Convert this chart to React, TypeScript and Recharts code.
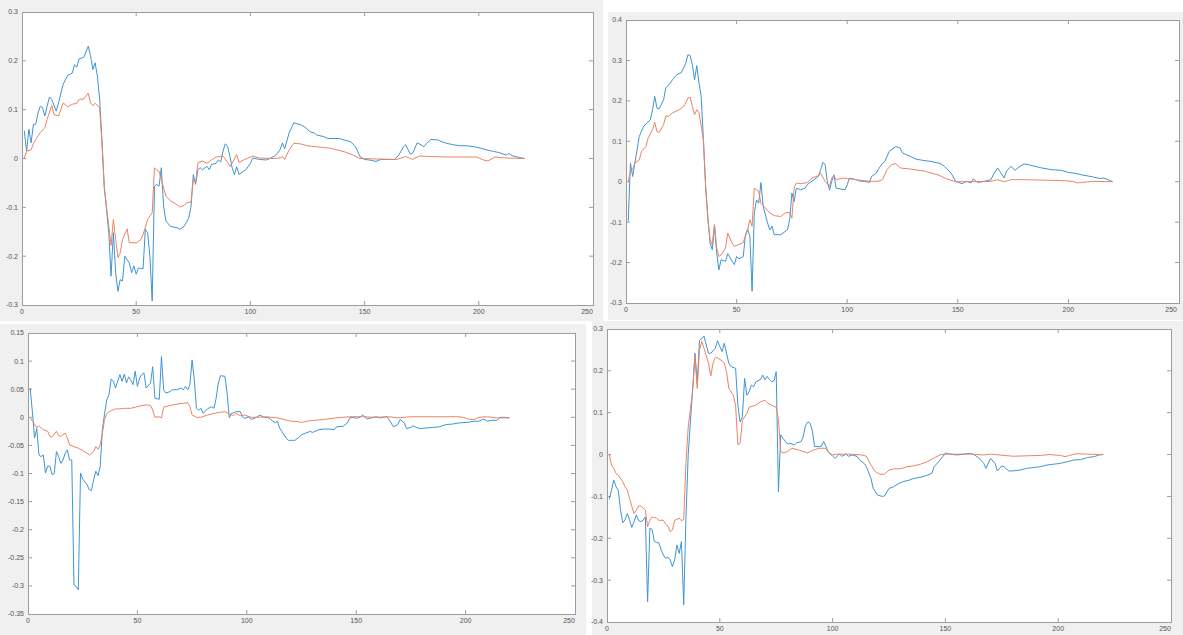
import { LineChart, Line, XAxis, YAxis, ReferenceLine } from "recharts";

// four screenshots of matlab plots, each one blue and one orange trace
type Pt = [number, number];

const xTicks = [0, 50, 100, 150, 200, 250];

const p1Ticks = [-0.3, -0.2, -0.1, 0, 0.1, 0.2, 0.3];
const p2Ticks = [-0.3, -0.2, -0.1, 0, 0.1, 0.2, 0.3, 0.4];
const p3Ticks = [-0.35, -0.3, -0.25, -0.2, -0.15, -0.1, -0.05, 0, 0.05, 0.1, 0.15];
const p4Ticks = [-0.4, -0.3, -0.2, -0.1, 0, 0.1, 0.2, 0.3];

const p1Blue: Pt[] = [
  [1, 0.057], [2, 0.015], [3, 0.06], [4, 0.032], [5, 0.07], [6, 0.07], [7, 0.093], [8, 0.107], [9, 0.104], [10, 0.087],
  [11, 0.107], [12, 0.126], [13, 0.121], [15, 0.097], [16, 0.114], [18, 0.152], [20, 0.17], [22, 0.175], [23, 0.192], [24, 0.187],
  [25, 0.204], [27, 0.207], [29, 0.23], [30, 0.211], [31, 0.182], [32, 0.196], [33, 0.169], [34, 0.121], [35, 0.039], [36, -0.057],
  [38, -0.152], [39, -0.241], [40, -0.152], [41, -0.234], [42, -0.272], [43, -0.248], [44, -0.251], [45, -0.2], [47, -0.214], [48, -0.234],
  [49, -0.22], [50, -0.237], [51, -0.224], [53, -0.226], [54, -0.145], [55, -0.152], [56, -0.2], [57, -0.292], [58, -0.057], [59, -0.053],
  [60, -0.057], [61, -0.019], [62, -0.098], [63, -0.128], [65, -0.139], [68, -0.142], [69, -0.145], [71, -0.139], [73, -0.122], [74, -0.098],
  [75, -0.033], [76, -0.053], [77, -0.023], [78, -0.019], [79, -0.023], [81, -0.016], [82, -0.023], [83, -0.012], [85, -0.01], [86, -0.003],
  [87, -0.007], [88, 0.015], [89, 0.03], [90, 0.025], [91, 0.005], [92, -0.019], [93, -0.033], [94, -0.017], [95, -0.033], [97, -0.026],
  [98, -0.023], [100, -0.01], [101, 0.001], [104, -0.002], [107, -0.003], [109, 0.001], [111, 0.006], [113, 0.018], [114, 0.032], [115, 0.02],
  [117, 0.053], [119, 0.073], [122, 0.069], [124, 0.064], [126, 0.055], [128, 0.052], [129, 0.048], [132, 0.045], [134, 0.041], [139, 0.041],
  [141, 0.038], [144, 0.034], [146, 0.024], [148, 0.004], [150, -0.002], [152, -0.003], [155, -0.006], [157, -0.002], [160, -0.002], [163, -0.002],
  [165, 0.007], [167, 0.024], [168, 0.028], [170, 0.009], [171, 0.01], [173, 0.032], [174, 0.03], [176, 0.024], [177, 0.03], [179, 0.039],
  [182, 0.038], [184, 0.034], [186, 0.031], [189, 0.028], [192, 0.026], [195, 0.026], [198, 0.024], [201, 0.021], [204, 0.017], [207, 0.014],
  [209, 0.012], [212, 0.007], [213, 0.01], [215, 0.005], [218, 0.002], [220, 0],
];

const p1Orange: Pt[] = [
  [1, 0], [2, 0.015], [4, 0.018], [5, 0.031], [6, 0.039], [8, 0.053], [10, 0.063], [11, 0.08], [13, 0.109], [14, 0.09],
  [16, 0.087], [17, 0.1], [18, 0.114], [20, 0.106], [22, 0.111], [24, 0.113], [25, 0.121], [27, 0.122], [29, 0.134], [30, 0.114],
  [31, 0.108], [32, 0.113], [34, 0.104], [35, 0.032], [36, -0.057], [38, -0.139], [39, -0.178], [40, -0.125], [41, -0.166], [42, -0.203],
  [43, -0.193], [44, -0.166], [46, -0.144], [47, -0.173], [48, -0.172], [50, -0.173], [52, -0.166], [53, -0.156], [55, -0.125], [56, -0.118],
  [57, -0.111], [58, -0.019], [59, -0.024], [60, -0.026], [61, -0.043], [63, -0.077], [65, -0.087], [67, -0.092], [69, -0.099], [71, -0.096],
  [72, -0.091], [74, -0.089], [75, -0.043], [76, -0.05], [77, -0.009], [79, -0.005], [81, -0.01], [83, -0.003], [85, 0.003], [88, 0.005],
  [90, -0.008], [91, -0.016], [92, -0.01], [94, 0.008], [95, -0.008], [97, -0.003], [99, 0.001], [101, 0.005], [104, 0.001], [110, 0],
  [113, 0.001], [114, 0.004], [115, -0.002], [117, 0.018], [119, 0.031], [122, 0.03], [125, 0.026], [129, 0.024], [135, 0.021], [141, 0.014],
  [145, 0.007], [148, 0], [155, -0.001], [164, -0.002], [168, 0.004], [171, -0.002], [174, 0.005], [179, 0.004], [187, 0.003], [199, 0.003],
  [202, -0.003], [204, -0.005], [207, 0.003], [212, 0.001], [220, 0],
];

const p2Blue: Pt[] = [
  [1, -0.098], [2, 0.046], [3, 0.013], [4, 0.046], [5, 0.079], [6, 0.112], [8, 0.137], [9, 0.143], [11, 0.153], [12, 0.178],
  [13, 0.211], [14, 0.182], [15, 0.18], [17, 0.203], [18, 0.232], [20, 0.244], [21, 0.252], [23, 0.265], [25, 0.27], [26, 0.281],
  [27, 0.293], [28, 0.314], [29, 0.312], [30, 0.289], [31, 0.252], [32, 0.287], [33, 0.244], [34, 0.211], [35, 0.104], [36, -0.012],
  [37, -0.086], [38, -0.152], [39, -0.168], [40, -0.11], [41, -0.176], [42, -0.218], [43, -0.193], [45, -0.197], [46, -0.178], [48, -0.197],
  [49, -0.205], [50, -0.185], [51, -0.191], [53, -0.185], [54, -0.131], [55, -0.117], [56, -0.135], [57, -0.271], [58, -0.077], [59, -0.045],
  [60, -0.053], [61, -0.002], [62, -0.061], [64, -0.102], [65, -0.119], [66, -0.11], [67, -0.131], [70, -0.131], [71, -0.127], [73, -0.119],
  [74, -0.094], [75, -0.028], [76, -0.049], [77, -0.016], [79, -0.02], [81, -0.016], [82, -0.007], [85, 0.005], [87, 0.013], [88, 0.03],
  [89, 0.048], [90, 0.043], [91, 0.001], [92, -0.021], [93, 0.001], [94, 0.017], [95, -0.016], [97, -0.018], [99, -0.02], [100, -0.008],
  [101, 0.009], [104, 0.005], [106, 0.001], [108, 0.001], [110, -0.002], [111, 0.013], [113, 0.02], [114, 0.03], [116, 0.046], [117, 0.05],
  [119, 0.075], [122, 0.087], [124, 0.083], [125, 0.071], [128, 0.064], [131, 0.056], [134, 0.053], [138, 0.05], [142, 0.045], [144, 0.038],
  [147, 0.021], [149, 0.001], [152, -0.005], [154, 0.001], [156, -0.003], [157, 0.007], [159, -0.002], [162, 0.001], [165, 0.005], [166, 0.017],
  [168, 0.034], [171, 0.009], [172, 0.026], [174, 0.038], [176, 0.028], [177, 0.034], [180, 0.044], [182, 0.042], [185, 0.038], [188, 0.034],
  [192, 0.03], [197, 0.028], [200, 0.023], [203, 0.021], [206, 0.017], [211, 0.012], [214, 0.008], [216, 0.009], [218, 0.005], [220, 0],
];

const p2Orange: Pt[] = [
  [1, 0], [2, 0.026], [3, 0.03], [4, 0.046], [6, 0.054], [7, 0.075], [9, 0.087], [10, 0.108], [12, 0.129], [13, 0.147],
  [14, 0.124], [15, 0.122], [17, 0.141], [18, 0.163], [19, 0.161], [21, 0.17], [24, 0.178], [26, 0.186], [27, 0.195], [28, 0.207],
  [29, 0.209], [30, 0.186], [31, 0.166], [32, 0.178], [33, 0.171], [34, 0.137], [35, 0.104], [36, -0.012], [37, -0.094], [38, -0.143],
  [39, -0.156], [40, -0.106], [41, -0.164], [42, -0.185], [43, -0.181], [45, -0.164], [46, -0.127], [48, -0.152], [49, -0.16], [52, -0.153],
  [53, -0.15], [55, -0.119], [56, -0.094], [57, -0.11], [58, -0.016], [59, -0.02], [60, -0.024], [61, -0.053], [63, -0.065], [65, -0.077],
  [67, -0.084], [70, -0.086], [72, -0.077], [74, -0.076], [75, -0.09], [76, -0.016], [77, -0.003], [79, -0.005], [82, -0.002], [84, 0.009],
  [87, 0.015], [88, 0.021], [90, 0.001], [92, -0.012], [93, 0.009], [94, 0.015], [95, 0.005], [98, 0.009], [101, 0.007], [104, 0.005],
  [110, 0.001], [114, 0.001], [116, 0.005], [118, 0.03], [120, 0.042], [122, 0.045], [124, 0.034], [129, 0.031], [135, 0.026], [141, 0.017],
  [145, 0.007], [149, 0], [156, 0], [165, 0.001], [168, 0.005], [171, 0], [174, 0.005], [180, 0.005], [196, 0.003], [202, 0.001],
  [204, -0.003], [206, -0.002], [211, 0.001], [220, 0],
];

const p3Blue: Pt[] = [
  [1, 0.052], [2, 0.01], [3, -0.037], [4, -0.02], [5, -0.067], [6, -0.07], [7, -0.067], [8, -0.099], [9, -0.087], [10, -0.087],
  [11, -0.102], [12, -0.1], [13, -0.061], [14, -0.07], [15, -0.082], [16, -0.076], [17, -0.064], [18, -0.058], [19, -0.076], [20, -0.076],
  [21, -0.298], [22, -0.301], [23, -0.307], [24, -0.099], [25, -0.11], [27, -0.12], [28, -0.129], [29, -0.13], [30, -0.111], [31, -0.096],
  [32, -0.104], [33, -0.087], [34, -0.022], [35, 0.007], [36, 0.031], [37, 0.04], [38, 0.068], [39, 0.064], [40, 0.052], [41, 0.064],
  [42, 0.076], [43, 0.064], [44, 0.077], [45, 0.061], [46, 0.072], [47, 0.066], [48, 0.058], [49, 0.082], [50, 0.055], [51, 0.07],
  [52, 0.076], [53, 0.079], [54, 0.052], [56, 0.061], [57, 0.09], [58, 0.034], [60, 0.032], [61, 0.108], [62, 0.049], [63, 0.043],
  [65, 0.046], [66, 0.049], [68, 0.049], [70, 0.052], [71, 0.049], [72, 0.055], [73, 0.049], [74, 0.058], [75, 0.102], [76, 0.067],
  [77, 0.016], [78, 0.013], [79, 0.016], [80, 0.007], [82, 0.015], [84, 0.019], [85, 0.016], [86, 0.034], [87, 0.061], [88, 0.074],
  [90, 0.073], [91, 0.043], [92, -0.001], [93, 0.007], [94, 0.008], [95, 0.01], [97, 0.01], [98, 0.001], [99, -0.002], [101, 0.001],
  [102, -0.004], [104, -0.001], [106, 0.004], [108, 0], [110, -0.001], [111, -0.004], [113, -0.01], [114, -0.007], [115, -0.019], [116, -0.025],
  [118, -0.037], [119, -0.041], [122, -0.041], [124, -0.035], [125, -0.031], [127, -0.028], [129, -0.025], [130, -0.027], [133, -0.022], [135, -0.021],
  [138, -0.021], [140, -0.022], [141, -0.017], [144, -0.016], [146, -0.01], [147, -0.001], [149, 0], [150, -0.002], [152, 0.001], [153, 0.004],
  [155, -0.003], [157, -0.001], [159, 0.001], [161, -0.001], [164, 0.001], [165, -0.004], [167, -0.017], [169, -0.013], [170, -0.004], [172, -0.01],
  [173, -0.02], [175, -0.018], [176, -0.015], [178, -0.019], [180, -0.02], [182, -0.019], [185, -0.018], [188, -0.017], [191, -0.013], [194, -0.012],
  [197, -0.01], [201, -0.009], [204, -0.007], [206, -0.007], [208, -0.003], [210, -0.007], [211, -0.006], [213, -0.005], [214, -0.006], [216, 0],
  [218, 0], [220, -0.001],
];

const p3Orange: Pt[] = [
  [1, -0.001], [2, -0.007], [3, -0.012], [4, -0.019], [5, -0.015], [6, -0.019], [7, -0.022], [9, -0.025], [10, -0.034], [11, -0.035],
  [13, -0.025], [14, -0.033], [15, -0.034], [17, -0.028], [18, -0.037], [19, -0.049], [21, -0.052], [23, -0.055], [25, -0.059], [27, -0.064],
  [28, -0.067], [30, -0.061], [31, -0.052], [32, -0.057], [33, -0.049], [34, -0.028], [35, -0.004], [36, 0.007], [38, 0.012], [40, 0.015],
  [42, 0.015], [44, 0.016], [47, 0.016], [49, 0.018], [51, 0.02], [54, 0.022], [56, 0.021], [57, 0.013], [58, 0], [60, 0.001],
  [61, -0.001], [62, 0.018], [64, 0.02], [66, 0.022], [69, 0.024], [71, 0.025], [73, 0.026], [74, 0.019], [75, 0.004], [77, 0],
  [79, 0], [82, 0.004], [85, 0.007], [88, 0.009], [90, 0.01], [92, 0.006], [94, 0.003], [95, 0.007], [97, 0.003], [99, 0.004],
  [102, 0], [105, 0], [109, 0.001], [114, -0.001], [117, -0.004], [120, -0.007], [122, -0.007], [125, -0.009], [129, -0.006], [135, -0.004],
  [141, -0.001], [147, 0.001], [153, 0.001], [159, 0], [165, 0.001], [169, -0.001], [172, 0], [175, 0.001], [184, 0.001], [196, 0.001],
  [199, 0], [201, -0.003], [204, -0.004], [206, 0], [210, 0.001], [214, -0.001], [220, -0.001],
];

const p4Blue: Pt[] = [
  [1, -0.107], [2, -0.085], [3, -0.061], [4, -0.077], [5, -0.085], [6, -0.133], [7, -0.163], [8, -0.156], [9, -0.141], [10, -0.156],
  [11, -0.174], [12, -0.16], [13, -0.144], [14, -0.158], [15, -0.16], [16, -0.157], [17, -0.149], [18, -0.352], [19, -0.176], [20, -0.179],
  [21, -0.208], [22, -0.21], [23, -0.211], [24, -0.228], [25, -0.24], [26, -0.248], [27, -0.245], [28, -0.252], [29, -0.268], [30, -0.252],
  [31, -0.216], [32, -0.236], [33, -0.208], [34, -0.359], [35, -0.15], [36, 0], [37, 0.08], [38, 0.16], [39, 0.242], [40, 0.17],
  [41, 0.273], [42, 0.277], [43, 0.283], [44, 0.262], [45, 0.242], [46, 0.242], [48, 0.254], [49, 0.272], [50, 0.258], [51, 0.246],
  [52, 0.266], [53, 0.242], [54, 0.218], [55, 0.21], [57, 0.206], [58, 0.118], [59, 0.078], [60, 0.09], [61, 0.182], [62, 0.142],
  [63, 0.15], [64, 0.166], [65, 0.162], [66, 0.174], [68, 0.179], [69, 0.19], [70, 0.179], [71, 0.187], [72, 0.179], [73, 0.174],
  [74, 0.176], [75, 0.198], [76, -0.089], [77, 0.047], [78, 0.039], [80, 0.025], [81, 0.027], [83, 0.023], [84, 0.028], [86, 0.031],
  [87, 0.043], [88, 0.07], [89, 0.078], [90, 0.075], [91, 0.058], [92, 0.019], [94, 0.019], [95, 0.02], [96, 0.031], [97, 0.02],
  [98, 0.007], [100, -0.004], [101, -0.009], [103, 0.001], [104, -0.004], [106, 0.001], [107, -0.004], [109, -0.001], [111, -0.005], [112, -0.013],
  [114, -0.021], [115, -0.029], [117, -0.057], [118, -0.081], [120, -0.097], [122, -0.1], [123, -0.099], [125, -0.081], [127, -0.077], [129, -0.07],
  [131, -0.065], [134, -0.061], [136, -0.057], [138, -0.055], [140, -0.053], [142, -0.049], [144, -0.045], [145, -0.029], [147, -0.017], [149, -0.004],
  [150, 0.004], [152, 0.001], [155, -0.001], [158, 0.001], [161, 0.003], [163, -0.001], [165, -0.009], [167, -0.021], [168, -0.033], [170, -0.009],
  [172, -0.021], [173, -0.039], [175, -0.027], [176, -0.029], [178, -0.039], [180, -0.039], [183, -0.037], [186, -0.033], [189, -0.031], [192, -0.029],
  [195, -0.025], [198, -0.023], [201, -0.021], [204, -0.017], [207, -0.013], [210, -0.012], [213, -0.007], [216, -0.005], [218, -0.001], [220, 0],
];

const p4Orange: Pt[] = [
  [1, 0], [2, -0.025], [3, -0.033], [4, -0.045], [5, -0.049], [7, -0.065], [8, -0.077], [9, -0.085], [10, -0.105], [11, -0.124],
  [12, -0.141], [13, -0.133], [14, -0.123], [15, -0.123], [17, -0.133], [18, -0.172], [19, -0.157], [20, -0.149], [22, -0.152], [23, -0.157],
  [25, -0.157], [26, -0.166], [27, -0.171], [28, -0.184], [29, -0.18], [30, -0.157], [32, -0.152], [33, -0.158], [34, -0.155], [35, -0.021],
  [36, 0.066], [37, 0.11], [38, 0.154], [39, 0.234], [40, 0.158], [41, 0.25], [42, 0.27], [43, 0.254], [45, 0.218], [46, 0.188],
  [47, 0.218], [48, 0.232], [49, 0.231], [51, 0.224], [52, 0.219], [53, 0.198], [54, 0.158], [56, 0.142], [57, 0.118], [58, 0.024],
  [59, 0.027], [60, 0.082], [62, 0.098], [63, 0.113], [66, 0.118], [68, 0.126], [70, 0.13], [71, 0.124], [73, 0.118], [75, 0.113],
  [76, 0.082], [77, 0.007], [78, 0.004], [80, 0.007], [82, 0.015], [85, 0.011], [87, 0.007], [89, 0.004], [91, 0.01], [94, 0.015],
  [97, 0.015], [98, 0.007], [100, -0.001], [102, 0.001], [108, 0.001], [113, -0.001], [115, -0.004], [117, -0.025], [119, -0.041], [121, -0.047],
  [123, -0.047], [125, -0.037], [127, -0.034], [130, -0.034], [133, -0.029], [136, -0.027], [139, -0.023], [142, -0.017], [145, -0.008], [148, 0],
  [151, 0.001], [157, 0.001], [162, 0.001], [167, -0.001], [170, 0.001], [174, -0.001], [180, -0.004], [186, -0.003], [192, -0.002], [196, 0],
  [201, -0.002], [203, -0.005], [205, -0.002], [208, 0.002], [213, 0.001], [220, 0],
];

const BLUE = "#3f95d2";
const ORANGE = "#ec8462";
const AXIS = "#9c9c9c";
const LABEL = "#555";
const FONT = "Liberation Sans, Arial, sans-serif";

const toRows = (pts: Pt[]) => pts.map(([x, y]) => ({ x, y }));

const YW = 30; // room for y tick labels
const XH = 14; // room for x tick labels
const TOP = 5;
const RIGHT = 6;
const TICK = 4; // inward tick length, px

function Panel({
  px, py, pw, ph, yTicks, blue, orange, endFlush = false,
}: {
  px: number; py: number; pw: number; ph: number;
  yTicks: number[]; blue: Pt[]; orange: Pt[]; endFlush?: boolean;
}) {
  const y0 = yTicks[0];
  const y1 = yTicks[yTicks.length - 1];
  const dx = (TICK * 250) / pw;
  const dy = (TICK * (y1 - y0)) / ph;
  const tickFont = { fontSize: 7, fill: LABEL, fontFamily: FONT };
  const tk = { stroke: AXIS, strokeWidth: 1 };

  // last x label sits on the page edge in the top-right panel, pull it inside
  const xTick = (p: any) => {
    const last = endFlush && p.payload.value === xTicks[xTicks.length - 1];
    return (
      <text x={last ? p.x + 4 : p.x} y={p.y} dy="0.71em" textAnchor={last ? "end" : "middle"}
        fontSize={7} fill={LABEL} fontFamily={FONT}>
        {p.payload.value}
      </text>
    );
  };

  return (
    <>
      <div style={{ position: "absolute", left: px - YW, top: py - TOP }}>
        <LineChart
          width={pw + YW + RIGHT}
          height={ph + TOP + XH}
          margin={{ top: TOP, right: RIGHT, left: 0, bottom: 0 }}
        >
          <XAxis type="number" dataKey="x" domain={[0, 250]} ticks={xTicks}
            height={XH} tickSize={0} tickMargin={4} tickLine={false}
            axisLine={false} tick={xTick} allowDataOverflow />
          <YAxis type="number" dataKey="y" domain={[y0, y1]} ticks={yTicks}
            width={YW} tickSize={0} tickMargin={4} tickLine={false}
            axisLine={false} tick={tickFont} allowDataOverflow />
          {/* matlab style inward ticks on all four sides */}
          {xTicks.slice(1, -1).map((t) => (
            <ReferenceLine key={"b" + t} segment={[{ x: t, y: y0 }, { x: t, y: y0 + dy }]} {...tk} />
          ))}
          {xTicks.slice(1, -1).map((t) => (
            <ReferenceLine key={"t" + t} segment={[{ x: t, y: y1 }, { x: t, y: y1 - dy }]} {...tk} />
          ))}
          {yTicks.slice(1, -1).map((t) => (
            <ReferenceLine key={"l" + t} segment={[{ x: 0, y: t }, { x: dx, y: t }]} {...tk} />
          ))}
          {yTicks.slice(1, -1).map((t) => (
            <ReferenceLine key={"r" + t} segment={[{ x: 250, y: t }, { x: 250 - dx, y: t }]} {...tk} />
          ))}
          <Line data={toRows(blue)} dataKey="y" stroke={BLUE}
            strokeWidth={1} dot={false} isAnimationActive={false} />
          <Line data={toRows(orange)} dataKey="y" stroke={ORANGE}
            strokeWidth={1} dot={false} isAnimationActive={false} />
        </LineChart>
      </div>
      {/* axes box */}
      <div style={{
        position: "absolute", left: px, top: py, width: pw - 1, height: ph - 1,
        border: `1px solid ${AXIS}`, pointerEvents: "none",
      }} />
    </>
  );
}

const gray = (left: number, top: number, w: number, h: number) => (
  <div style={{ position: "absolute", left, top, width: w, height: h, background: "#f0f0f0" }} />
);

export default function App() {
  return (
    <div style={{ position: "absolute", left: 0, top: 0, width: 1183, height: 635, background: "#fff", overflow: "hidden" }}>
      {gray(0, 0, 603, 321)}
      {gray(608, 12, 575, 308)}
      {gray(0, 324, 586, 311)}
      {gray(592, 321, 591, 314)}
      <div style={{ position: "absolute", left: 22, top: 12, width: 571, height: 293, background: "#fff" }} />
      <div style={{ position: "absolute", left: 626, top: 20, width: 553, height: 283, background: "#fff" }} />
      <div style={{ position: "absolute", left: 28, top: 333, width: 547, height: 281, background: "#fff" }} />
      <div style={{ position: "absolute", left: 607, top: 329, width: 564, height: 293, background: "#fff" }} />
      <Panel px={22} py={12} pw={571} ph={293} yTicks={p1Ticks} blue={p1Blue} orange={p1Orange} />
      <Panel px={626} py={20} pw={553} ph={283} yTicks={p2Ticks} blue={p2Blue} orange={p2Orange} endFlush />
      <Panel px={28} py={333} pw={547} ph={281} yTicks={p3Ticks} blue={p3Blue} orange={p3Orange} />
      <Panel px={607} py={329} pw={564} ph={293} yTicks={p4Ticks} blue={p4Blue} orange={p4Orange} />
    </div>
  );
}
